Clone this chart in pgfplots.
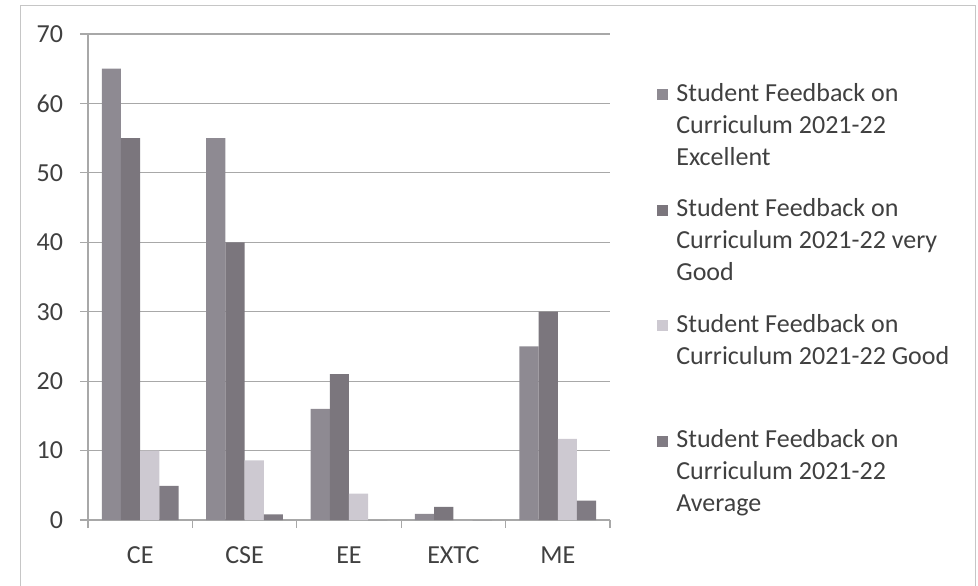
\documentclass[border=0pt]{standalone}
\usepackage{fontspec}
\setmainfont{Carlito}
\usepackage{pgfplots}
\pgfplotsset{compat=1.18}
\definecolor{cExc}{HTML}{8E8A92}
\definecolor{cVG}{HTML}{7B767D}
\definecolor{cGood}{HTML}{CDC9D1}
\definecolor{cAvg}{HTML}{807B83}
\definecolor{txt}{HTML}{404040}
\definecolor{gridc}{HTML}{A8A8A8}
\newcommand{\ls}{\rule[-4pt]{0pt}{15.75pt}}
\newcommand{\lb}{\rule[-4pt]{0pt}{25.5pt}}
\begin{document}
\begin{tikzpicture}
\path[use as bounding box] (-44pt,-32.5pt) rectangle (445pt,260pt);
\draw[gray!45, line width=0.5pt] (-34pt,-40pt) -- (-34pt,257.5pt) -- (443.5pt,257.5pt) -- (443.5pt,-40pt);
\begin{axis}[
  at={(0pt,0pt)}, anchor=south west,
  scale only axis, width=261pt, height=243pt,
  ybar=0pt, bar width=9.6pt,
  xmin=-0.5, xmax=4.5, ymin=0, ymax=70,
  ytick={0,10,...,70},
  xtick={0,1,2,3,4},
  xticklabels={CE,CSE,EE,EXTC,ME},
  minor xtick={-0.5,0.5,1.5,2.5,3.5,4.5},
  axis x line*=bottom, axis y line*=left,
  axis line style={gridc, line width=0.6pt, -},
  tick align=outside,
  major tick length=4pt, minor tick length=4pt,
  xtick style={draw=none},
  minor x tick style={draw=gridc, line width=0.6pt},
  ytick style={draw=gridc, line width=0.6pt},
  ymajorgrids, grid style={gridc, line width=0.6pt},
  tick label style={font=\fontsize{13}{15}\selectfont, text=txt},
  /pgf/number format/assume math mode=true,
  xticklabel style={yshift=-6pt},
  yticklabel style={xshift=-5pt},
  legend style={draw=none, fill=none, at={(axis description cs:1.09,0.9105)}, anchor=north west,
     font=\fontsize{13}{16}\selectfont, text=txt,
     cells={anchor=base west}, nodes={inner sep=0pt}, inner sep=0pt,
     row sep=2.75pt, column sep=4pt},
  legend image code/.code={\fill[#1] (0pt,0.5pt) rectangle (5.5pt,6pt);},
  every axis plot/.append style={draw=none},
  clip=false,
]
\addplot[fill=cExc, forget plot, bar shift=-14.4pt] coordinates {(0,65) (1,55) (2,16) (3,0.9) (4,25)};
\addplot[fill=cVG, forget plot, bar shift=-4.8pt] coordinates {(0,55) (1,40) (2,21) (3,1.9) (4,30)};
\addplot[fill=cGood, forget plot, bar shift=4.8pt] coordinates {(0,10) (1,8.6) (2,3.8) (3,0) (4,11.7)};
\addplot[fill=cAvg, forget plot, bar shift=14.4pt] coordinates {(0,4.9) (1,0.8) (2,0) (3,0) (4,2.8)};
\addlegendimage{fill=cExc}\addlegendentry{\ls Student Feedback on}
\addlegendimage{empty legend}\addlegendentry{\ls Curriculum 2021-22}
\addlegendimage{empty legend}\addlegendentry{\ls Excellent}
\addlegendimage{fill=cVG}\addlegendentry{\lb Student Feedback on}
\addlegendimage{empty legend}\addlegendentry{\ls Curriculum 2021-22 very}
\addlegendimage{empty legend}\addlegendentry{\ls Good}
\addlegendimage{fill=cGood}\addlegendentry{\lb Student Feedback on}
\addlegendimage{empty legend}\addlegendentry{\ls Curriculum 2021-22 Good}
\addlegendimage{empty legend}\addlegendentry{\ls}
\addlegendimage{fill=cAvg}\addlegendentry{\lb Student Feedback on}
\addlegendimage{empty legend}\addlegendentry{\ls Curriculum 2021-22}
\addlegendimage{empty legend}\addlegendentry{\ls Average}
\end{axis}
\end{tikzpicture}
\end{document}
